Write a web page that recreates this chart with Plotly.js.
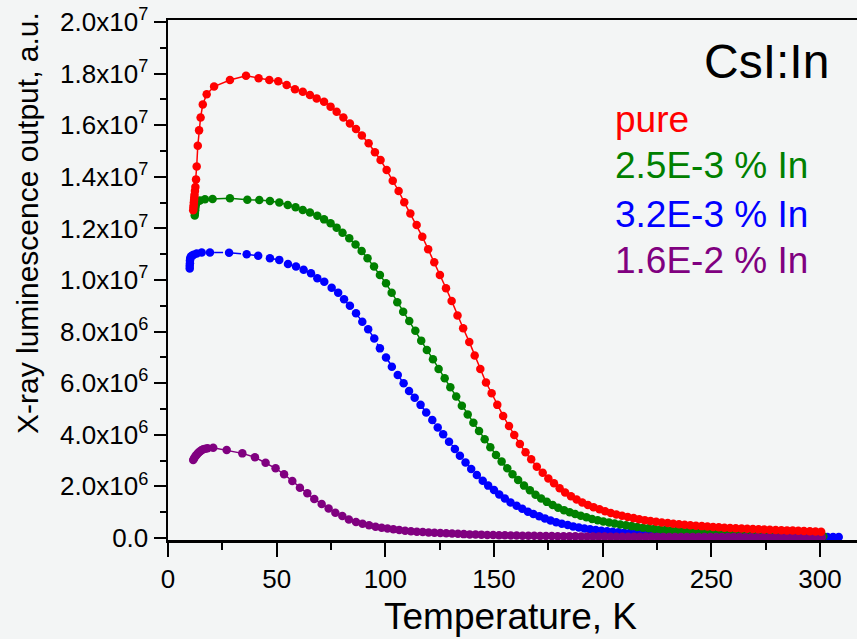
<!DOCTYPE html>
<html>
<head>
<meta charset="utf-8">
<script src="https://cdn.plot.ly/plotly-3.0.1.min.js"></script>
<style>
  html, body { margin: 0; padding: 0; background: #f3f5f5; }
  #chart { width: 857px; height: 639px; }
</style>
</head>
<body>
<div id="chart"></div>
<script>
// X-ray luminescence output of CsI:In crystals vs temperature
// Output values are given in units of 1e6 a.u.

const seriesNames = ["pure", "2.5E-3 % In", "3.2E-3 % In", "1.6E-2 % In"];
const seriesColors = ["#ff0000", "#008000", "#0000ff", "#800080"];

const pureT = [11.6, 11.7, 11.8, 11.9, 12.0, 12.1, 12.2, 12.4, 12.6, 12.9, 13.2, 13.7, 14.3, 15.0, 16.0, 17.8, 21.2, 28.5, 35.9, 41.7, 46.6, 50.7, 54.6, 58.4,
  62.0, 65.3, 68.4, 71.8, 74.8, 77.6, 80.7, 83.7, 86.5, 89.2, 92.3, 95.2, 97.8, 100.6, 103.4, 106.1, 108.7, 111.5, 114.4, 117.0, 119.7, 122.5, 125.1, 127.9, 130.5, 133.2, 135.8, 138.6, 141.1, 143.7, 146.3, 148.9, 151.5, 154.2, 156.9, 159.3, 161.9, 164.5, 167.1, 169.7, 172.4, 175.0, 177.6, 180.2, 182.7, 185.4, 188.0,
  190.6, 193.2, 195.8, 198.5, 201.1, 203.7, 206.3, 208.9, 211.5, 214.2, 216.8, 219.4, 222.0, 224.6, 227.2, 229.9, 232.5, 235.1, 237.7, 240.3, 242.9, 245.6, 248.2, 250.8, 253.4, 256.0, 258.6, 261.2, 263.9, 266.5, 269.1, 271.7, 274.3, 276.9, 279.6, 282.2, 284.8, 287.4, 290.0, 292.6, 295.3, 297.9, 300.5];
const pureI = [12.7, 12.8, 12.9, 13.0, 13.1, 13.2, 13.3, 13.45, 13.6, 13.9, 14.4, 15.2, 15.8, 16.3, 16.8, 17.2, 17.5, 17.75, 17.92, 17.82, 17.75, 17.7, 17.56, 17.39,
  17.3, 17.17, 17.04, 16.91, 16.72, 16.52, 16.3, 16.07, 15.85, 15.6, 15.3, 14.95, 14.65, 14.26, 13.85, 13.45, 13.01, 12.58, 12.13, 11.68, 11.19, 10.69, 10.19, 9.68, 9.19, 8.62, 8.13, 7.6, 7.07, 6.55, 6.03, 5.61, 5.16, 4.73, 4.34, 3.99, 3.64, 3.32, 3.05, 2.76, 2.53, 2.31, 2.12, 1.93, 1.76, 1.62, 1.49,
  1.38, 1.28, 1.19, 1.11, 1.04, 0.97, 0.91, 0.86, 0.81, 0.77, 0.73, 0.69, 0.66, 0.63, 0.60, 0.58, 0.55, 0.53, 0.51, 0.49, 0.475, 0.46, 0.445, 0.43, 0.415, 0.40, 0.39, 0.38, 0.37, 0.36, 0.35, 0.34, 0.33, 0.32, 0.31, 0.30, 0.295, 0.29, 0.28, 0.275, 0.265, 0.255, 0.245];

const in25T = [12.3, 12.4, 12.5, 12.6, 12.7, 13.0, 13.5, 14.7, 17.0, 20.5, 28.5, 36.5, 42.0, 46.9, 51.2, 55.1, 58.7,
  62.0, 65.3, 68.7, 71.8, 74.8, 77.6, 80.3, 83.4, 86.3, 89.1, 91.8, 94.8, 97.5, 100.3, 102.9, 105.5, 108.2, 111.0, 113.8, 116.5, 119.1, 121.9, 124.5, 127.3, 129.9, 132.6, 135.2, 137.9, 140.5, 143.1, 145.7, 148.3, 150.9, 153.5, 156.1, 158.5, 161.1, 163.8, 166.5, 169.1, 171.7, 174.3, 177.0, 179.5, 182.2, 184.8, 187.3,
  189.9, 192.5, 195.1, 197.7, 200.3, 202.9, 205.5, 208.1, 210.7, 213.3, 215.9, 218.5, 221.1, 223.7, 226.3, 228.9, 231.5, 234.1, 236.7, 239.3, 241.9, 244.5, 247.1, 249.7, 252.3, 254.9, 257.5, 260.1, 262.7, 265.3, 267.9, 270.5, 273.1, 275.7, 278.3, 280.9, 283.5, 286.1, 288.7, 291.3, 293.9, 296.5, 299.1, 301.5];
const in25I = [12.5, 12.6, 12.7, 12.8, 12.9, 12.98, 13.03, 13.08, 13.13, 13.14, 13.17, 13.11, 13.10, 13.06, 13.0, 12.91, 12.82,
  12.71, 12.62, 12.49, 12.35, 12.2, 12.03, 11.83, 11.62, 11.38, 11.12, 10.84, 10.52, 10.19, 9.87, 9.51, 9.14, 8.77, 8.41, 8.03, 7.65, 7.29, 6.93, 6.55, 6.19, 5.84, 5.48, 5.13, 4.79, 4.47, 4.15, 3.83, 3.52, 3.22, 2.96, 2.70, 2.47, 2.25, 2.03, 1.85, 1.68, 1.53, 1.40, 1.28, 1.17, 1.08, 1.0, 0.93,
  0.86, 0.80, 0.74, 0.69, 0.64, 0.60, 0.56, 0.52, 0.49, 0.46, 0.43, 0.40, 0.375, 0.35, 0.33, 0.31, 0.29, 0.27, 0.255, 0.24, 0.225, 0.21, 0.20, 0.19, 0.18, 0.17, 0.16, 0.15, 0.145, 0.14, 0.13, 0.125, 0.12, 0.115, 0.11, 0.105, 0.10, 0.095, 0.09, 0.085, 0.08, 0.078, 0.075, 0.07];

const in32T = [10.0, 10.0, 10.1, 10.1, 10.2, 10.4, 10.7, 11.2, 11.8, 13.2, 15.5, 19.3, 28.1, 36.2, 41.5, 46.9, 51.2, 55.2, 58.9,
  62.4, 65.8, 68.7, 71.9, 75.3, 78.3, 81.0, 83.7, 86.5, 89.4, 92.1, 94.9, 97.5, 100.3, 103.0, 105.7, 108.4, 110.9, 113.5, 116.2, 118.8, 121.6, 124.1, 126.6, 129.3, 132.0, 134.3, 136.9, 139.5, 142.1, 144.8, 147.3, 150.0, 152.4, 155.0, 157.6, 160.4, 163.0, 165.6, 168.1, 170.8, 173.4, 176.0, 178.6, 181.2, 183.9, 186.4,
  189.0, 191.6, 194.2, 196.8, 199.4, 202.0, 204.6, 207.2, 209.8, 212.4, 215.0, 217.6, 220.2, 222.8, 225.4, 228.0, 230.6, 233.2, 235.8, 238.4, 241.0, 243.6, 246.2, 248.8, 251.4, 254.0, 256.6, 259.2, 261.8, 264.4, 267.0, 269.6, 272.2, 274.8, 277.4, 280.0, 282.6, 285.2, 287.8, 290.4, 293.0, 295.6, 298.2, 300.8, 303.4, 306.0, 308.6];
const in32I = [10.45, 10.55, 10.65, 10.75, 10.82, 10.88, 10.92, 10.95, 10.98, 11.03, 11.07, 11.07, 11.06, 11.0, 10.94, 10.84, 10.78, 10.62, 10.52,
  10.40, 10.26, 10.07, 9.93, 9.7, 9.51, 9.25, 9.0, 8.71, 8.38, 8.09, 7.73, 7.35, 7.0, 6.64, 6.32, 6.0, 5.70, 5.44, 5.16, 4.86, 4.57, 4.28, 4.02, 3.73, 3.45, 3.19, 2.93, 2.67, 2.44, 2.22, 2.03, 1.86, 1.69, 1.53, 1.38, 1.25, 1.13, 1.02, 0.93, 0.84, 0.76, 0.68, 0.61, 0.55, 0.50, 0.45,
  0.41, 0.37, 0.34, 0.31, 0.285, 0.26, 0.24, 0.22, 0.205, 0.19, 0.175, 0.16, 0.15, 0.14, 0.13, 0.12, 0.11, 0.105, 0.10, 0.095, 0.09, 0.085, 0.08, 0.077, 0.074, 0.071, 0.068, 0.065, 0.063, 0.061, 0.059, 0.057, 0.055, 0.053, 0.052, 0.051, 0.05, 0.049, 0.048, 0.047, 0.046, 0.045, 0.044, 0.043, 0.042, 0.042, 0.041];

const in16T = [11.6, 12.0, 12.4, 13.0, 13.5, 14.1, 14.7, 15.4, 16.2, 17.2, 18.2, 20.8, 27.0, 34.2, 40.0, 44.9, 49.5, 53.4, 57.2, 60.7,
  64.1, 67.3, 70.7, 73.9, 77.0, 80.2, 83.2, 86.5, 89.5, 92.5, 95.5, 98.3, 101.0, 103.7, 106.4, 109.1, 111.8, 114.5, 117.2, 119.9, 122.6, 125.3, 128.0, 130.7, 133.4, 136.1, 138.8, 141.5, 144.2, 146.9, 149.6, 152.3, 155.0, 157.7, 160.4, 163.1, 165.8, 168.5, 171.2, 173.9, 176.6, 179.3, 182.0, 184.7, 187.4, 190.1, 192.8, 195.5, 198.2, 200.9, 203.6, 206.3, 209.0, 211.7, 214.4, 217.1, 219.8, 222.5, 225.2, 227.9, 230.6, 233.3, 236.0, 238.7, 241.4, 244.1, 246.8, 249.5, 252.2, 254.9, 257.6, 260.3, 263.0, 265.7, 268.4, 271.1, 273.8, 276.5, 279.2, 281.9, 284.6, 287.3, 290.0, 292.7, 295.4, 298.1, 300.8];
const in16I = [3.02, 3.08, 3.15, 3.21, 3.26, 3.31, 3.35, 3.40, 3.44, 3.46, 3.48, 3.50, 3.41, 3.28, 3.13, 2.92, 2.70, 2.47, 2.21, 1.95,
  1.73, 1.51, 1.32, 1.14, 0.98, 0.85, 0.72, 0.62, 0.55, 0.49, 0.44, 0.40, 0.365, 0.335, 0.31, 0.285, 0.265, 0.245, 0.23, 0.215, 0.20, 0.19, 0.18, 0.17, 0.16, 0.15, 0.14, 0.135, 0.13, 0.12, 0.115, 0.11, 0.105, 0.10, 0.095, 0.09, 0.087, 0.084, 0.08, 0.077, 0.074, 0.071, 0.068, 0.066, 0.064, 0.062, 0.06, 0.058, 0.056, 0.054, 0.052, 0.05, 0.049, 0.048, 0.047, 0.046, 0.045, 0.044, 0.043, 0.042, 0.041, 0.04, 0.04, 0.039, 0.038, 0.038, 0.037, 0.036, 0.036, 0.035, 0.035, 0.034, 0.034, 0.033, 0.033, 0.032, 0.032, 0.031, 0.031, 0.03, 0.03, 0.03, 0.029, 0.029, 0.029, 0.028, 0.028];

const xTickVals = [0, 50, 100, 150, 200, 250, 300];
const xTickText = ["0", "50", "100", "150", "200", "250", "300"];
const xMinorVals = [25, 75, 125, 175, 225, 275];
const yTickVals = [0, 2e6, 4e6, 6e6, 8e6, 1e7, 1.2e7, 1.4e7, 1.6e7, 1.8e7, 2e7];
const yTickText = ["0.0", "2.0x10<sup>6</sup>", "4.0x10<sup>6</sup>", "6.0x10<sup>6</sup>", "8.0x10<sup>6</sup>",
  "1.0x10<sup>7</sup>", "1.2x10<sup>7</sup>", "1.4x10<sup>7</sup>", "1.6x10<sup>7</sup>", "1.8x10<sup>7</sup>", "2.0x10<sup>7</sup>"];
const yMinorVals = [1e6, 3e6, 5e6, 7e6, 9e6, 1.1e7, 1.3e7, 1.5e7, 1.7e7, 1.9e7];

const SCALE = 1e6;
const FONT = "Liberation Sans, Arial, sans-serif";

function makeTrace(t, v, idx, dash) {
  return {
    x: t,
    y: v.map(d => d * SCALE),
    name: seriesNames[idx],
    type: "scatter",
    mode: "lines+markers",
    line: { color: seriesColors[idx], width: 1.5, dash: dash || "solid" },
    marker: { color: seriesColors[idx], size: 8.5, line: { width: 0 } },
    showlegend: false,
    hoverinfo: "skip"
  };
}

// drawing order: blue, green, purple, red on top
const traces = [
  makeTrace(in32T, in32I, 2, "dash"),
  makeTrace(in25T, in25I, 1),
  makeTrace(in16T, in16I, 3),
  makeTrace(pureT, pureI, 0)
];

// coloured sample labels, stacked under the "CsI:In" heading
const labelY = [0.8088, 0.72, 0.6262, 0.5377];
const annotations = seriesNames.map((n, i) => ({
  text: n, xref: "paper", yref: "paper", x: 0.6465, y: labelY[i],
  xanchor: "left", yanchor: "middle", showarrow: false,
  font: { family: FONT, size: 37, color: seriesColors[i] }
}));
annotations.push({
  text: "CsI:In", xref: "paper", yref: "paper", x: 0.962, y: 0.921,
  xanchor: "right", yanchor: "middle", showarrow: false,
  font: { family: FONT, size: 48, color: "#000000" }
});
annotations.push({
  text: "Temperature, K", xref: "paper", yref: "paper", x: 0.4978, y: -0.148,
  xanchor: "center", yanchor: "middle", showarrow: false,
  font: { family: FONT, size: 37, color: "#000000" }
});
annotations.push({
  text: "X-ray luminescence output, a.u.", xref: "paper", yref: "paper", x: -0.2046, y: 0.6096,
  xanchor: "center", yanchor: "middle", textangle: -90, showarrow: false,
  font: { family: FONT, size: 30, color: "#000000" }
});

const layout = {
  width: 857,
  height: 639,
  margin: { l: 168, r: 0, t: 20, b: 99, pad: 0 },
  paper_bgcolor: "#f3f5f5",
  plot_bgcolor: "#f3f5f5",
  font: { family: FONT, color: "#000000" },
  xaxis: {
    range: [0, 317],
    tickmode: "array",
    tickvals: xTickVals,
    ticktext: xTickText,
    ticks: "outside",
    ticklen: 14,
    tickwidth: 2,
    tickcolor: "#000000",
    tickfont: { family: FONT, size: 26, color: "#000000" },
    minor: { tickmode: "array", tickvals: xMinorVals, ticks: "outside", ticklen: 7, tickwidth: 2, tickcolor: "#000000", showgrid: false },
    showline: true,
    linecolor: "#000000",
    linewidth: 2.5,
    mirror: true,
    showgrid: false,
    zeroline: false
  },
  yaxis: {
    range: [-0.078e6, 2.0078e7],
    tickmode: "array",
    tickvals: yTickVals,
    ticktext: yTickText,
    ticks: "outside",
    ticklen: 12,
    tickwidth: 2,
    tickcolor: "#000000",
    tickfont: { family: FONT, size: 26, color: "#000000" },
    minor: { tickmode: "array", tickvals: yMinorVals, ticks: "outside", ticklen: 6, tickwidth: 2, tickcolor: "#000000", showgrid: false },
    showline: true,
    linecolor: "#000000",
    linewidth: 2.5,
    showgrid: false,
    zeroline: false
  },
  annotations: annotations
};

Plotly.newPlot("chart", traces, layout, { staticPlot: true, displayModeBar: false });
</script>
</body>
</html>
